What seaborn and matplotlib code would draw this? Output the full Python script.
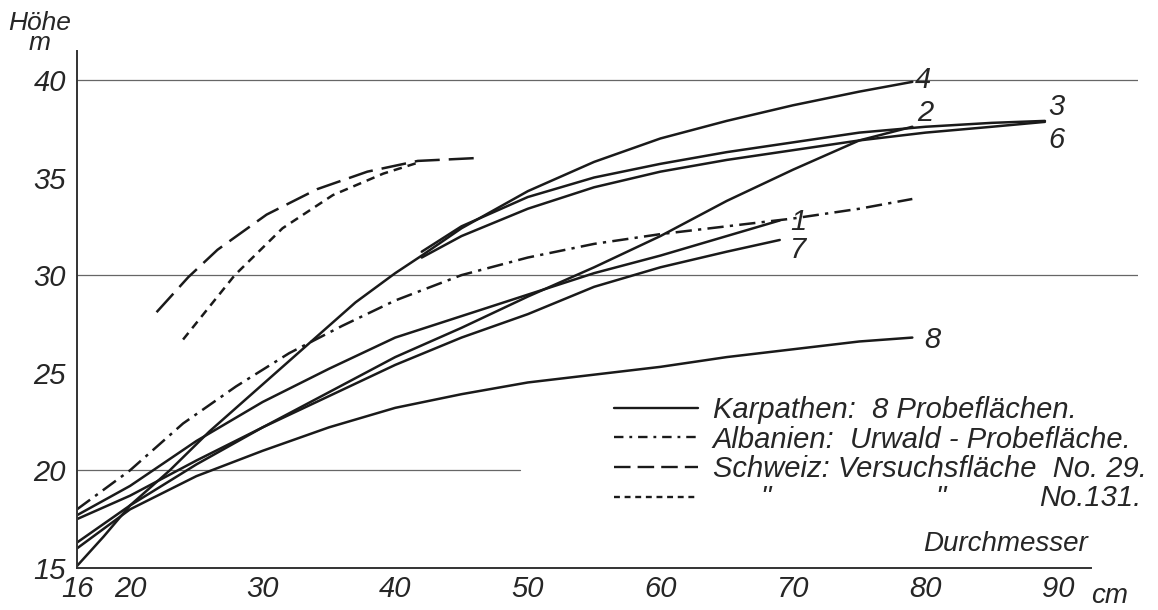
import pandas as pd
import seaborn as sns
import matplotlib.pyplot as plt
from matplotlib.lines import Line2D

# Karpathen: 8 Probeflächen (curve 5 not drawn in the original)
cm_1 = [16, 20, 25, 30, 35, 40, 45, 50, 55, 60, 65, 69]
m_1 = [17.7, 19.2, 21.5, 23.5, 25.2, 26.8, 27.9, 29.0, 30.1, 31.0, 32.0, 32.8]
cm_2 = [16, 20, 25, 30, 35, 40, 45, 50, 55, 60, 65, 70, 75, 79]
m_2 = [16.3, 18.2, 20.3, 22.2, 24.0, 25.8, 27.3, 28.9, 30.4, 32.0, 33.8, 35.4, 36.9, 37.6]
cm_3 = [42, 45, 50, 55, 60, 65, 70, 75, 80, 85, 89]
m_3 = [31.2, 32.5, 34.0, 35.0, 35.7, 36.3, 36.8, 37.3, 37.6, 37.8, 37.9]
cm_4 = [16, 18, 20, 23, 26, 28, 30, 34, 37, 40, 42, 45, 50, 55, 60, 65, 70, 75, 79]
m_4 = [15.1, 16.6, 18.2, 20.0, 22.0, 23.2, 24.4, 26.8, 28.6, 30.1, 31.0, 32.4,
       34.3, 35.8, 37.0, 37.9, 38.7, 39.4, 39.9]
cm_6 = [42, 45, 50, 55, 60, 65, 70, 75, 80, 85, 89]
m_6 = [30.9, 32.0, 33.4, 34.5, 35.3, 35.9, 36.4, 36.9, 37.3, 37.6, 37.85]
cm_7 = [16, 20, 25, 30, 35, 40, 45, 50, 55, 60, 65, 69]
m_7 = [17.5, 18.7, 20.5, 22.2, 23.8, 25.4, 26.8, 28.0, 29.4, 30.4, 31.2, 31.8]
cm_8 = [16, 20, 25, 30, 35, 40, 45, 50, 55, 60, 65, 70, 75, 79]
m_8 = [16.0, 18.0, 19.7, 21.0, 22.2, 23.2, 23.9, 24.5, 24.9, 25.3, 25.8, 26.2, 26.6, 26.8]

# Albanien: Urwald-Probefläche
cm_alb = [16, 20, 24, 28, 32, 36, 40, 45, 50, 55, 60, 65, 70, 75, 79]
m_alb = [18.0, 20.0, 22.4, 24.3, 26.0, 27.4, 28.7, 30.0, 30.9, 31.6, 32.1, 32.5, 32.9, 33.4, 33.9]

# Schweiz: Versuchsfläche No. 29 and No. 131
cm_29 = [22, 24.4, 26.6, 30.3, 34.1, 37.9, 41.7, 46.2]
m_29 = [28.1, 29.9, 31.3, 33.1, 34.4, 35.3, 35.85, 36.0]
cm_131 = [24, 27.9, 31.5, 35.3, 39.1, 41.9]
m_131 = [26.7, 30.0, 32.4, 34.1, 35.2, 35.8]

curve_labels = ['1', '2', '3', '4', '6', '7', '8']
label_x = [70.4, 80.0, 89.9, 79.8, 89.9, 70.4, 80.5]
label_y = [32.7, 38.3, 38.6, 40.0, 36.9, 31.3, 26.7]

x_ticks = [16, 20, 30, 40, 50, 60, 70, 80, 90]
y_ticks = [15, 20, 25, 30, 35, 40]

legend_texts = ['Karpathen:  8 Probeflächen.',
                'Albanien:  Urwald - Probefläche.',
                'Schweiz: Versuchsfläche  No. 29.',
                '']
ditto_texts = ['"', '"', 'No.131.']
ditto_x = [67.9, 81.1, 96.3]
ditto_y = 18.6

series = {
    ('1', 'karp'): (cm_1, m_1), ('2', 'karp'): (cm_2, m_2),
    ('3', 'karp'): (cm_3, m_3), ('4', 'karp'): (cm_4, m_4),
    ('6', 'karp'): (cm_6, m_6), ('7', 'karp'): (cm_7, m_7),
    ('8', 'karp'): (cm_8, m_8), ('alb', 'alb'): (cm_alb, m_alb),
    ('29', 'ch29'): (cm_29, m_29), ('131', 'ch131'): (cm_131, m_131),
}
rows = []
for (name, group), (xs, ys) in series.items():
    for x, y in zip(xs, ys):
        rows.append({'cm': x, 'm': y, 'curve': name, 'group': group})
df = pd.DataFrame(rows)

sns.set_style('white')
plt.rcParams['font.family'] = ['Liberation Sans', 'DejaVu Sans']
plt.rcParams['font.style'] = 'italic'

dash_map = {'karp': '', 'alb': (6.5, 2.5, 1.3, 2.5), 'ch29': (10, 3.6), 'ch131': (3.4, 2.4)}

fig = plt.figure(figsize=(11.58, 6.10), dpi=100)
ax = fig.add_axes([0.0665, 0.069, 0.916, 0.848])

# grid lines as in the original: 40 and 30 across, 20 only to the legend
ax.axhline(40, color='#666666', lw=0.9, zorder=0)
ax.axhline(30, color='#666666', lw=0.9, zorder=0)
ax.axhline(20, xmax=0.4175, color='#666666', lw=0.9, zorder=0)

sns.lineplot(data=df, x='cm', y='m', units='curve', estimator=None, style='group',
             dashes=dash_map, color='#1a1a1a', lw=1.8, sort=False, legend=False, ax=ax)

for t, x, y in zip(curve_labels, label_x, label_y):
    ax.text(x, y, t, fontsize=21, ha='center', va='center')

ax.set_xlim(16, 96)
ax.set_ylim(15, 41.5)
ax.set_xticks(x_ticks)
ax.set_yticks(y_ticks)
ax.set_xticklabels([str(v) for v in x_ticks], fontsize=21)
ax.set_yticklabels([str(v) for v in y_ticks], fontsize=21)
ax.tick_params(axis='x', direction='in', length=4, width=1, pad=5, color='#333333')
ax.tick_params(axis='y', direction='out', length=3, width=1, pad=5, color='#333333')
ax.set_xlabel('')
ax.set_ylabel('')
sns.despine(ax=ax)
ax.spines['bottom'].set_bounds(16, 92.5)
ax.spines['left'].set_bounds(15, 41.5)
for s in ('left', 'bottom'):
    ax.spines[s].set_linewidth(1.4)
    ax.spines[s].set_color('#333333')

ax.text(13.2, 42.4, 'Höhe\nm', fontsize=19, ha='center', va='center',
        linespacing=0.8, clip_on=False)
ax.text(86.0, 16.2, 'Durchmesser', fontsize=20, ha='center', va='center')
ax.text(93.9, 13.55, 'cm', fontsize=20, ha='center', va='center', clip_on=False)

handles = [Line2D([], [], color='#1a1a1a', lw=1.7),
           Line2D([], [], color='#1a1a1a', lw=1.7, dashes=(4, 2.5, 1.2, 2.5)),
           Line2D([], [], color='#1a1a1a', lw=1.7, dashes=(7, 3)),
           Line2D([], [], color='#1a1a1a', lw=1.7, dashes=(2.5, 2))]
ax.legend(handles, legend_texts, loc='upper left', bbox_to_anchor=(0.495, 0.355),
          frameon=False, fontsize=21, handlelength=2.9, handletextpad=0.5,
          labelspacing=0.06, borderaxespad=0)
for t, x in zip(ditto_texts, ditto_x):
    ax.text(x, ditto_y, t, fontsize=21, ha='right' if t.startswith('No') else 'center',
            va='center')

fig.savefig('out.png', dpi=100)
